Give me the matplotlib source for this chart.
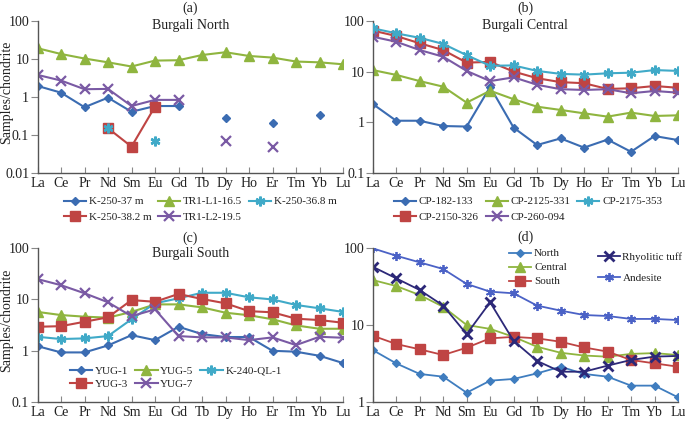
import numpy as np
import matplotlib
matplotlib.use("Agg")
import matplotlib.pyplot as plt
from matplotlib.ticker import FixedLocator, FixedFormatter, NullLocator

plt.rcParams['font.family'] = ['Liberation Serif', 'DejaVu Serif']

nan = np.nan
elements = ['La', 'Ce', 'Pr', 'Nd', 'Sm', 'Eu', 'Gd', 'Tb', 'Dy', 'Ho', 'Er', 'Tm', 'Yb', 'Lu']

# Panel (a) Burgali North
k250_37 = [1.95, 1.3, 0.54, 0.96, 0.41, 0.58, 0.58, nan, 0.28, nan, 0.21, nan, 0.33, nan]
tr1_l1 = [19, 13.4, 10.2, 8.1, 6.3, 9.0, 9.2, 12.6, 14.9, 11.9, 10.8, 8.5, 8.1, 7.2]
k250_368 = [nan, nan, nan, 0.152, nan, 0.072, nan, nan, nan, nan, nan, nan, nan, nan]
k250_382 = [nan, nan, nan, 0.152, 0.05, 0.56, nan, nan, nan, nan, nan, nan, nan, nan]
tr1_l2 = [3.8, 2.7, 1.6, 1.63, 0.58, 0.84, 0.84, nan, 0.071, nan, 0.0485, nan, nan, nan]

# Panel (b) Burgali Central
cp182 = [2.31, 1.08, 1.08, 0.85, 0.83, 5.0, 0.79, 0.36, 0.485, 0.32, 0.46, 0.265, 0.54, 0.45]
cp2125 = [10.7, 8.6, 6.5, 5.05, 2.45, 4.2, 2.86, 2.04, 1.76, 1.51, 1.3, 1.56, 1.34, 1.38]
cp2175 = [71, 56.5, 46, 35, 21, 13, 13.2, 10.3, 9.0, 8.7, 9.25, 9.5, 10.7, 10.3]
cp2150 = [64, 50, 36, 26.5, 15, 15.5, 10, 7.4, 6.2, 5.9, 4.55, 4.7, 5.2, 4.8]
cp260 = [48.5, 38.6, 26.5, 19.6, 10.3, 6.5, 7.7, 5.5, 4.5, 4.35, 4.5, 3.75, 4.15, 3.85]

# Panel (c) Burgali South
yug1 = [1.22, 0.92, 0.92, 1.26, 2.0, 1.6, 2.92, 2.1, 1.84, 1.84, 0.99, 0.95, 0.79, 0.57]
yug5 = [5.7, 4.95, 4.6, 4.4, 5.7, 8.0, 8.0, 7.0, 5.5, 4.9, 4.1, 3.1, 2.67, 2.67]
k240 = [1.86, 1.68, 1.73, 1.92, 4.1, 8.4, 10.5, 13.5, 13.5, 11.0, 10.0, 7.8, 6.7, 5.7]
yug3 = [2.92, 3.0, 3.66, 4.47, 9.7, 9.0, 12.8, 10.2, 8.4, 5.9, 5.6, 4.2, 3.95, 3.5]
yug7 = [25, 19, 13.2, 8.8, 4.7, 6.4, 1.92, 1.81, 1.81, 1.6, 1.81, 1.28, 1.86, 1.78]

# Panel (d) averages
north = [4.72, 3.16, 2.3, 2.12, 1.31, 1.88, 1.98, 2.34, 2.86, 2.3, 2.12, 1.62, 1.62, 1.14]
central = [38.6, 32.2, 24.6, 17.3, 10.0, 8.9, 7.0, 5.2, 4.35, 4.0, 3.86, 4.2, 4.3, 4.06]
south = [7.26, 5.65, 4.82, 4.06, 5.06, 6.7, 7.0, 6.7, 6.05, 5.1, 4.5, 3.5, 3.16, 2.86]
rhyolitic = [57.5, 40.6, 28.6, 17.9, 7.6, 19.8, 6.2, 3.4, 2.46, 2.46, 2.95, 3.5, 3.87, 3.95]
andesite = [100, 80, 65.6, 53.7, 34.3, 27.2, 25.9, 17.9, 15.4, 13.5, 13.1, 12.0, 12.0, 11.6]

BLUE = '#3b6cb2'
NBLUE = '#3f7dbf'
GREEN = '#8fb53f'
CYAN = '#40aac8'
RED = '#bf4443'
PURPLE = '#7a5aa4'
NAVY = '#2c2878'
ROYAL = '#4b62c6'

W, H = 685, 422
fig = plt.figure(figsize=(W / 100, H / 100), dpi=100)

def add_ax(x0, y0, x1, y1):
    return fig.add_axes([x0 / W, 1 - y1 / H, (x1 - x0) / W, (y1 - y0) / H])

axa = add_ax(37.5, 20.7, 343, 173.3)
axb = add_ax(372.7, 20.7, 678, 173.3)
axc = add_ax(37.5, 248.3, 343, 401.7)
axd = add_ax(372.7, 248.3, 678, 401.7)

x = np.arange(len(elements))
TXT = '#222222'

def style(ax, ymin, ymax):
    ax.set_yscale('log')
    ax.set_xlim(0, 13)
    ax.set_ylim(ymin, ymax)
    for s in ['top', 'right']:
        ax.spines[s].set_visible(False)
    for s in ['left', 'bottom']:
        ax.spines[s].set_color('#555555')
        ax.spines[s].set_linewidth(1.0)
    ax.set_xticks(x)
    ax.set_xticklabels(elements)
    ticks = []
    v = ymin
    while v <= ymax * 1.0001:
        ticks.append(v)
        v *= 10
    ax.yaxis.set_major_locator(FixedLocator(ticks))
    ax.yaxis.set_major_formatter(FixedFormatter(['%g' % t for t in ticks]))
    ax.yaxis.set_minor_locator(NullLocator())
    ax.tick_params(axis='x', direction='in', length=4, color='#888888',
                   labelsize=10, labelcolor=TXT, pad=3)
    ax.tick_params(axis='y', direction='out', length=5, color='#888888',
                   labelsize=10, labelcolor=TXT, pad=1)

lw = 1.5

def plot(ax, y, color, marker, label, ms, z=2, mew=1.0):
    return ax.plot(x, y, color=color, marker=marker, lw=lw, ms=ms, mew=mew,
                   mec=color, mfc=color, label=label, zorder=z)[0]

STAR = (6, 2, 0)

# (a)
style(axa, 0.01, 100)
ha1 = plot(axa, k250_37, BLUE, 'D', 'K-250-37 m', 4.5)
ha2 = plot(axa, tr1_l1, GREEN, '^', 'TR1-L1-16.5', 7.5)
ha4 = plot(axa, k250_382, RED, 's', 'K-250-38.2 m', 6.5, z=3)
ha3 = plot(axa, k250_368, CYAN, STAR, 'K-250-36.8 m', 7, z=4, mew=1.8)
ha5 = plot(axa, tr1_l2, PURPLE, 'x', 'TR1-L2-19.5', 6.5, mew=1.6)

# (b)
style(axb, 0.1, 100)
hb1 = plot(axb, cp182, BLUE, 'D', 'CP-182-133', 4.5)
hb2 = plot(axb, cp2125, GREEN, '^', 'CP-2125-331', 7.5)
hb4 = plot(axb, cp2150, RED, 's', 'CP-2150-326', 6.5)
hb3 = plot(axb, cp2175, CYAN, STAR, 'CP-2175-353', 7, z=3, mew=1.8)
hb5 = plot(axb, cp260, PURPLE, 'x', 'CP-260-094', 6.5, mew=1.6)

# (c)
style(axc, 0.1, 100)
hc1 = plot(axc, yug1, BLUE, 'D', 'YUG-1', 4.5)
hc2 = plot(axc, yug5, GREEN, '^', 'YUG-5', 7.5)
hc3 = plot(axc, k240, CYAN, STAR, 'K-240-QL-1', 7, mew=1.8)
hc4 = plot(axc, yug3, RED, 's', 'YUG-3', 6.5)
hc5 = plot(axc, yug7, PURPLE, 'x', 'YUG-7', 6.5, mew=1.6)

# (d)
style(axd, 1, 100)
hd1 = plot(axd, north, NBLUE, 'D', 'North', 4.5, mew=0.8)
hd2 = plot(axd, central, GREEN, '^', 'Central', 7.5)
hd3 = plot(axd, south, RED, 's', 'South', 6.5)
hd4 = plot(axd, andesite, ROYAL, STAR, 'Andesite', 6.5, mew=1.3)
hd5 = plot(axd, rhyolitic, NAVY, 'x', 'Rhyolitic tuff', 7, mew=2.0)
for h in (hd1, hd2, hd3, hd4, hd5):
    h.set_linewidth(1.3)

# titles and labels
def ftext(px, py, s, size=10, **kw):
    fig.text(px / W, 1 - py / H, s, ha='center', va='center', fontsize=size, color=TXT, **kw)

ftext(190.5, 8.5, '(a)')
ftext(190.5, 25.5, 'Burgali North')
ftext(525, 8.5, '(b)')
ftext(525, 25.5, 'Burgali Central')
ftext(190.5, 238, '(c)')
ftext(190.5, 253.5, 'Burgali South')
ftext(525, 237, '(d)')
ftext(7, 92, 'Samples/chondrite', rotation=90)
ftext(7, 320, 'Samples/chondrite', rotation=90)

leg_kw = dict(frameon=False, fontsize=8, handlelength=2.0, handletextpad=0.25,
              columnspacing=0.6, labelspacing=0.55, borderpad=0.0, borderaxespad=0.0,
              bbox_transform=fig.transFigure, labelcolor=TXT)

def fleg(ax, handles, cx, cy, ncol, **kw):
    d = dict(leg_kw)
    d.update(kw)
    leg = ax.legend(handles=handles, loc='center', bbox_to_anchor=(cx / W, 1 - cy / H),
                    ncol=ncol, **d)
    return leg

fleg(axa, [ha1, ha4, ha2, ha5, ha3], 200, 209.5, 3)
fleg(axb, [hb1, hb4, hb2, hb5, hb3], 528, 209.5, 3)
fleg(axc, [hc1, hc4, hc2, hc5, hc3], 176, 377.5, 3, labelspacing=0.35)
l1 = fleg(axd, [hd1, hd2, hd3], 538, 267.5, 1, labelspacing=0.38)
axd.add_artist(l1)
fleg(axd, [hd5, hd4], 640, 267.5, 1, labelspacing=1.05)

fig.savefig('out.png', dpi=100)
